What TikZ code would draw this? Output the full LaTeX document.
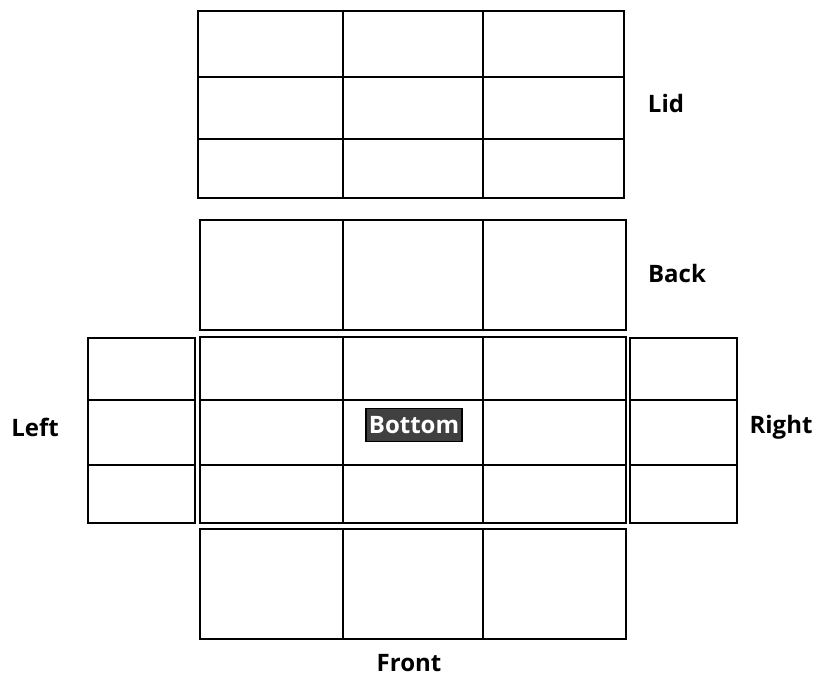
\documentclass[tikz,border=0pt]{standalone}
\usepackage{fontspec}
\setmainfont{Open Sans}
\begin{document}
\begin{tikzpicture}[x=1pt,y=-1pt,
  panel/.style={draw=black,line width=2.2pt},
  grid line/.style={draw=black,line width=2pt},
  side label/.style={font=\bfseries\fontsize{24}{28}\selectfont,text=black,inner sep=0pt},
  tag/.style={fill=black!75,draw=black,line width=1.5pt,text=white,
    font=\bfseries\fontsize{24}{28}\selectfont,inner xsep=3pt,inner ysep=0pt,
    minimum height=33pt}]
\useasboundingbox (0,0) rectangle (818,677);
% lid: 3 x 3 cells
\draw[panel] (198,11) rectangle (624,198);
\draw[grid line] (343,11) -- (343,198) (483,11) -- (483,198)
                 (198,77) -- (624,77) (198,139) -- (624,139);
% back: 3 columns
\draw[panel] (200,220) rectangle (626,330);
\draw[grid line] (343,220) -- (343,330) (483,220) -- (483,330);
% bottom: 3 x 3 cells
\draw[panel] (200,337) rectangle (626,523);
\draw[grid line] (343,337) -- (343,523) (483,337) -- (483,523)
                 (200,400) -- (626,400) (200,465) -- (626,465);
% left side: 3 rows
\draw[panel] (88,338) rectangle (195,523);
\draw[grid line] (88,400) -- (195,400) (88,465) -- (195,465);
% right side: 3 rows
\draw[panel] (630,338) rectangle (737,523);
\draw[grid line] (630,400) -- (737,400) (630,465) -- (737,465);
% front: 3 columns
\draw[panel] (200,529) rectangle (626,639);
\draw[grid line] (343,529) -- (343,639) (483,529) -- (483,639);
% labels
\node[side label] (lid) at (666,103) {Lid};
\node[side label] (back) at (677,273) {Back};
\node[side label] (left) at (35,427) {Left};
\node[side label] (right) at (781,427) {Right};
\node[side label] (front) at (409,663) {Front};
\node[tag] (bottom) at (414,425) {Bottom};
\end{tikzpicture}
\end{document}
